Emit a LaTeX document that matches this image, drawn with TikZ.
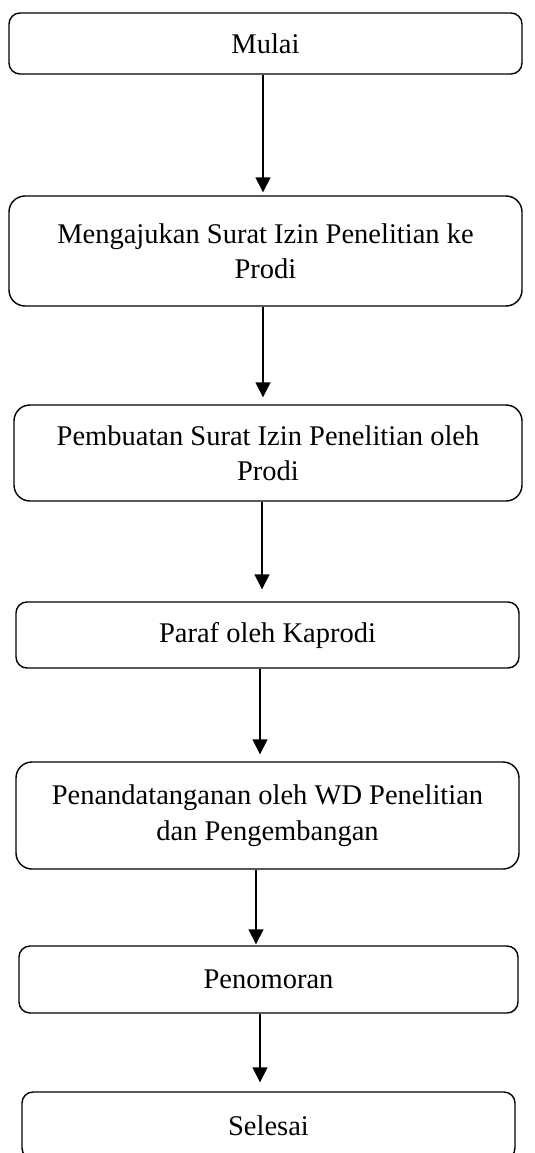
\documentclass[tikz,border=0pt]{standalone}
\usepackage{fontspec}
\setmainfont{Liberation Serif}
\usetikzlibrary{arrows.meta}
\begin{document}
\begin{tikzpicture}[x=1pt,y=-1pt,
  box/.style={draw, line width=1.4pt, rounded corners=11pt, align=center,
    font=\fontsize{28.5}{35.5}\selectfont, inner sep=0pt, minimum width=503pt},
  tall/.style={rounded corners=16pt},
  flow/.style={-{Triangle[width=15pt,length=15pt]}, line width=1.4pt}]
\useasboundingbox (0,0) rectangle (535,1153);
\clip (0,0) rectangle (535,1153);
\node[box, minimum width=513pt, minimum height=61pt] (m1) at (265.5,43.5) {Mulai};
\node[box, tall, minimum width=513pt, minimum height=110pt] (m2) at (265.5,251) {Mengajukan Surat Izin Penelitian ke\\Prodi};
\node[box, tall, minimum width=508pt, minimum height=96pt] (m3) at (268,453) {Pembuatan Surat Izin Penelitian oleh\\Prodi};
\node[box, minimum width=503pt, minimum height=66pt] (m4) at (267.5,635) {Paraf oleh Kaprodi};
\node[box, tall, minimum width=503pt, minimum height=107pt] (m5) at (267.5,815.5) {Penandatanganan oleh WD Penelitian\\dan Pengembangan};
\node[box, minimum width=499pt, minimum height=67pt] (m6) at (268.5,979.5) {Penomoran};
\node[box, minimum width=493pt, minimum height=67pt] (m7) at (268.5,1125.5) {Selesai};
\draw[flow, shorten >=3pt] ([xshift=-2.5pt]m1.south) coordinate (s1) -- (s1 |- m2.north);
\draw[flow, shorten >=7pt] ([xshift=-2.5pt]m2.south) coordinate (s2) -- (s2 |- m3.north);
\draw[flow, shorten >=12pt] ([xshift=-6pt]m3.south) coordinate (s3) -- (s3 |- m4.north);
\draw[flow, shorten >=7pt] ([xshift=-7.5pt]m4.south) coordinate (s4) -- (s4 |- m5.north);
\draw[flow, shorten >=1pt] ([xshift=-11.5pt]m5.south) coordinate (s5) -- (s5 |- m6.north);
\draw[flow, shorten >=9pt] ([xshift=-8.5pt]m6.south) coordinate (s6) -- (s6 |- m7.north);
\end{tikzpicture}
\end{document}
